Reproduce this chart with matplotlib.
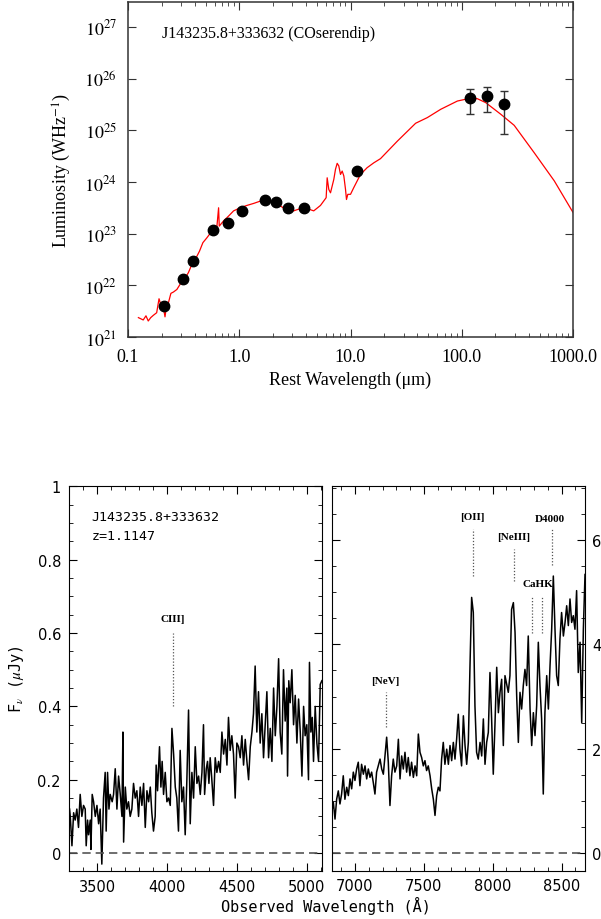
import matplotlib
matplotlib.use('Agg')
import matplotlib.pyplot as plt
from matplotlib.ticker import MultipleLocator, NullFormatter, LogLocator

plt.rcParams['mathtext.fontset'] = 'stix'

# ---- SED (top panel) ----
phot_wave = [0.212, 0.315, 0.383, 0.58, 0.785, 1.05, 1.71, 2.14, 2.76, 3.83, 11.4]
phot_lum = [3.9e21, 1.35e22, 3.0e22, 1.17e23, 1.6e23, 2.7e23, 4.4e23, 4.0e23, 3.2e23, 3.2e23, 1.66e24]

fir_wave = [119, 167, 238]
fir_lum = [4.2e25, 4.5e25, 3.2e25]
fir_lo = [2.1e25, 2.3e25, 8.5e24]
fir_hi = [6.3e25, 6.9e25, 5.75e25]

model_wave = [0.124, 0.137, 0.145, 0.152, 0.160, 0.169, 0.181, 0.190, 0.197, 0.208,
              0.215, 0.220, 0.231, 0.243, 0.256, 0.275, 0.294, 0.320, 0.349, 0.375,
              0.402, 0.439, 0.471, 0.512, 0.568, 0.630, 0.652, 0.661, 0.722, 0.802,
              0.889, 1.02, 1.17, 1.35, 1.55, 1.78, 2.04, 2.34, 2.69, 3.08,
              3.55, 4.07, 4.67, 5.37, 6.04, 6.17, 6.38, 6.61, 7.08, 7.33,
              7.59, 7.85, 8.13, 8.42, 8.71, 9.02, 9.20, 9.46, 10.0, 10.7,
              12.3, 14.1, 16.2, 18.6, 26.4, 38.5, 49.1, 64.7, 91.4, 120,
              138, 164, 224, 296, 448, 679, 1013]
model_loglum = [21.375, 21.33, 21.41, 21.31, 21.375, 21.42, 21.47, 21.74, 21.63, 21.57,
                21.39, 21.54, 21.665, 21.845, 21.87, 21.92, 22.02, 22.115, 22.245, 22.405,
                22.50, 22.66, 22.825, 22.92, 23.05, 23.145, 23.50, 23.145, 23.245, 23.34,
                23.44, 23.50, 23.545, 23.585, 23.63, 23.65, 23.60, 23.535, 23.455, 23.44,
                23.485, 23.485, 23.44, 23.545, 23.695, 24.08, 23.855, 23.79, 24.05, 24.245,
                24.36, 24.31, 24.145, 24.21, 24.115, 23.855, 23.66, 23.76, 23.76, 23.89,
                24.145, 24.275, 24.37, 24.45, 24.79, 25.135, 25.245, 25.405, 25.565, 25.62,
                25.61, 25.535, 25.31, 25.095, 24.565, 24.02, 23.39]

# ---- spectra (bottom panels) ----
blue_wave = [3302, 3307, 3319, 3331, 3342, 3354, 3366, 3378, 3390, 3402, 3414, 3421, 3431, 3438,
             3450, 3455, 3464, 3474, 3486, 3498, 3510, 3521, 3533, 3545, 3557, 3564, 3574, 3584,
             3593, 3607, 3617, 3629, 3641, 3653, 3665, 3677, 3684, 3689, 3701, 3712, 3724, 3736,
             3748, 3760, 3772, 3784, 3796, 3808, 3820, 3832, 3844, 3856, 3868, 3880, 3891, 3903,
             3915, 3922, 3932, 3946, 3956, 3965, 3975, 3987, 3999, 4011, 4023, 4035, 4047, 4059,
             4070, 4082, 4094, 4106, 4118, 4130, 4142, 4154, 4166, 4178, 4190, 4202, 4214, 4226,
             4238, 4250, 4261, 4269, 4281, 4290, 4300, 4309, 4319, 4333, 4345, 4357, 4369, 4381,
             4393, 4405, 4417, 4429, 4440, 4452, 4464, 4476, 4488, 4500, 4512, 4524, 4536, 4548,
             4560, 4572, 4584, 4596, 4608, 4619, 4631, 4643, 4655, 4667, 4679, 4691, 4703, 4715,
             4727, 4739, 4751, 4763, 4775, 4787, 4799, 4810, 4822, 4834, 4846, 4858, 4863, 4872,
             4882, 4894, 4906, 4918, 4930, 4942, 4954, 4966, 4978, 4989, 5001, 5013, 5020, 5030,
             5040, 5049, 5061, 5073, 5085, 5097, 5109]
blue_flux = [0.12, 0.10, 0.02, 0.11, 0.09, 0.12, 0.07, 0.16, 0.10, 0.13, 0.12, 0.02, 0.09, 0.05,
             0.09, 0.01, 0.16, 0.14, 0.10, 0.13, 0.08, 0.12, -0.03, 0.15, 0.22, 0.06, 0.22, 0.12,
             0.16, 0.14, 0.16, 0.23, 0.12, 0.21, 0.16, 0.10, 0.33, 0.03, 0.18, 0.12, 0.14, 0.10,
             0.12, 0.19, 0.15, 0.17, 0.10, 0.18, 0.13, 0.19, 0.07, 0.17, 0.14, 0.18, 0.11, 0.06,
             0.10, 0.24, 0.17, 0.29, 0.18, 0.25, 0.16, 0.22, 0.14, 0.15, 0.13, 0.34, 0.27, 0.18,
             0.15, 0.06, 0.28, 0.14, 0.18, 0.05, 0.20, 0.39, 0.08, 0.22, 0.15, 0.29, 0.19, 0.21,
             0.16, 0.22, 0.35, 0.16, 0.23, 0.25, 0.19, 0.26, 0.21, 0.13, 0.26, 0.22, 0.25, 0.22,
             0.33, 0.27, 0.31, 0.24, 0.37, 0.28, 0.32, 0.27, 0.15, 0.30, 0.29, 0.26, 0.32, 0.24,
             0.31, 0.25, 0.20, 0.29, 0.33, 0.38, 0.51, 0.33, 0.44, 0.30, 0.38, 0.26, 0.35, 0.44,
             0.26, 0.34, 0.25, 0.45, 0.32, 0.40, 0.53, 0.33, 0.27, 0.50, 0.36, 0.45, 0.21, 0.47,
             0.41, 0.50, 0.35, 0.43, 0.30, 0.42, 0.33, 0.21, 0.40, 0.32, 0.35, 0.20, 0.52, 0.33,
             0.37, 0.25, 0.40, 0.30, 0.25, 0.46, 0.47]

red_wave = [6835, 6843, 6855, 6867, 6879, 6891, 6903, 6915, 6927, 6940, 6952, 6964, 6976, 6988,
            7000, 7012, 7024, 7036, 7048, 7061, 7073, 7085, 7097, 7109, 7121, 7133, 7145, 7157,
            7169, 7182, 7194, 7206, 7218, 7230, 7242, 7254, 7266, 7278, 7290, 7303, 7315, 7327,
            7339, 7351, 7363, 7375, 7387, 7399, 7411, 7424, 7436, 7448, 7460, 7472, 7484, 7496,
            7508, 7520, 7532, 7545, 7557, 7569, 7581, 7593, 7605, 7617, 7629, 7641, 7653, 7666,
            7678, 7690, 7702, 7714, 7726, 7738, 7750, 7762, 7774, 7787, 7799, 7811, 7823, 7835,
            7847, 7859, 7871, 7883, 7895, 7908, 7920, 7932, 7944, 7956, 7968, 7980, 7992, 8004,
            8016, 8029, 8041, 8053, 8065, 8077, 8089, 8101, 8113, 8125, 8137, 8150, 8162, 8174,
            8186, 8198, 8210, 8222, 8234, 8246, 8258, 8271, 8283, 8295, 8307, 8319, 8331, 8343,
            8355, 8367, 8379, 8392, 8404, 8416, 8428, 8440, 8452, 8464, 8476, 8488, 8500, 8513,
            8525, 8537, 8549, 8561, 8573, 8585, 8597, 8609, 8621, 8634, 8646, 8658, 8670]
red_flux = [0.84, 0.97, 0.65, 1.03, 1.19, 0.94, 1.13, 1.48, 1.03, 1.26, 1.10, 1.42, 1.23, 1.55,
            1.39, 1.61, 1.74, 1.29, 1.70, 1.51, 1.67, 1.42, 1.61, 1.45, 1.55, 1.35, 1.13, 1.55,
            1.67, 1.80, 1.61, 1.51, 1.86, 2.22, 1.74, 0.91, 1.48, 1.80, 1.55, 1.67, 2.18, 1.42,
            1.86, 1.61, 1.93, 1.55, 1.83, 1.48, 1.74, 1.45, 1.67, 1.48, 2.28, 1.93, 1.83, 1.67,
            1.77, 1.58, 1.67, 1.48, 1.23, 1.03, 0.72, 1.10, 1.26, 1.19, 1.80, 2.12, 1.70, 1.99,
            1.70, 2.06, 1.77, 2.12, 1.80, 2.18, 2.66, 1.99, 1.67, 2.63, 2.06, 1.70, 2.12, 3.59,
            4.90, 4.61, 2.82, 1.93, 1.80, 2.12, 1.86, 2.57, 1.70, 2.12, 2.31, 3.46, 2.57, 1.51,
            2.44, 3.56, 2.69, 3.08, 3.33, 2.06, 3.40, 3.24, 3.08, 3.40, 4.67, 4.80, 4.23, 3.01,
            2.12, 3.08, 2.76, 3.21, 3.52, 3.21, 4.16, 2.76, 2.06, 2.69, 2.25, 2.82, 4.04, 3.21,
            2.57, 1.13, 2.69, 3.40, 2.76, 3.59, 4.29, 5.31, 4.29, 3.40, 3.21, 4.10, 4.61, 4.16,
            4.42, 4.74, 4.36, 4.87, 4.42, 4.55, 4.29, 5.03, 3.46, 4.04, 2.50, 4.29, 5.34]

# line identifications: label, wavelength, line bottom, line top, label x, label y
blue_lines = [('CIII]', 4043, 0.40, 0.60, 4043, 0.64)]
red_lines = [('[NeV]', 7223, 2.41, 3.08, 7223, 3.30),
             ('[OII]', 7854, 5.31, 6.21, 7852, 6.45),
             ('[NeIII]', 8154, 5.22, 5.82, 8150, 6.07),
             ('D4000', 8428, 5.52, 6.21, 8416, 6.42),
             ('CaHK', 8287, 4.21, 4.92, 8331, 5.17),
             ('', 8360, 4.21, 4.92, 8331, 5.17)]

fig = plt.figure(figsize=(6.01, 9.2), dpi=100)

# ---------------- top: SED ----------------
serif = 'Liberation Serif'
ax = fig.add_axes([0.2130, 0.6326, 0.7404, 0.3641])
ax.set_xscale('log')
ax.set_yscale('log')
ax.plot(model_wave, [10 ** v for v in model_loglum], color='red', lw=0.9)
ax.plot(phot_wave, phot_lum, 'o', color='black', ms=7.5)
ax.errorbar(fir_wave, fir_lum,
            yerr=[[l - lo for l, lo in zip(fir_lum, fir_lo)],
                  [hi - l for l, hi in zip(fir_lum, fir_hi)]],
            fmt='o', color='black', ms=7.5, ecolor='#333333', elinewidth=1.0, capsize=3)
ax.set_xlim(0.1, 1000)
ax.set_ylim(1e21, 10 ** 27.48)
ax.set_xticks([0.1, 1, 10, 100, 1000])
ax.set_xticklabels(['0.1', '1.0', '10.0', '100.0', '1000.0'])
ax.xaxis.set_minor_locator(LogLocator(base=10, subs=range(2, 10), numticks=20))
ax.xaxis.set_minor_formatter(NullFormatter())
ax.set_yticks([1e21, 1e22, 1e23, 1e24, 1e25, 1e26, 1e27])
ax.set_yticklabels(['$10^{%d}$' % k for k in range(21, 28)])
ax.yaxis.set_minor_locator(LogLocator(base=10, subs=[], numticks=20))
ax.tick_params(which='both', direction='in', top=True, right=True, labelsize=13,
               labelfontfamily=serif, color='#333333')
ax.tick_params(which='major', length=6, pad=8)
ax.tick_params(which='minor', length=3)
for s in ax.spines.values():
    s.set_color('#333333')
    s.set_linewidth(1.1)
ax.set_xlabel('Rest Wavelength (μm)', fontsize=13, fontfamily=serif, labelpad=4)
ax.set_ylabel('Luminosity (WHz$^{-1}$)', fontsize=13, fontfamily=serif, labelpad=8)
ax.text(0.076, 0.907, 'J143235.8+333632 (COserendip)', transform=ax.transAxes,
        fontsize=11.5, fontfamily=serif, va='center')

# ---------------- bottom left: blue spectrum ----------------
mono = 'DejaVu Sans Mono'
axb = fig.add_axes([0.1153, 0.0525, 0.4210, 0.4178])
axb.plot(blue_wave, blue_flux, color='black', lw=1.1)
axb.axhline(0, color='#555555', lw=1.2, ls=(0, (5, 3)))
axb.set_xlim(3300, 5112)
axb.set_ylim(-0.048, 1.0)
axb.xaxis.set_major_locator(MultipleLocator(500))
axb.xaxis.set_minor_locator(MultipleLocator(100))
axb.set_yticks([0, 0.2, 0.4, 0.6, 0.8, 1.0])
axb.set_yticklabels(['0', '0.2', '0.4', '0.6', '0.8', '1'])
axb.yaxis.set_minor_locator(MultipleLocator(0.05))
axb.tick_params(which='both', direction='in', top=True, right=True, labelsize=10.5, pad=6)
axb.tick_params(which='major', length=6)
axb.tick_params(which='minor', length=3)
axb.set_ylabel(r'F$_\nu$ ($\mu$Jy)', fontsize=11, fontfamily=mono, labelpad=8)
axb.text(3460, 0.917, 'J143235.8+333632', fontsize=9.5, fontfamily=mono, va='center')
axb.text(3460, 0.866, 'z=1.1147', fontsize=9.5, fontfamily=mono, va='center')
for lab, w, y0, y1, tx, ty in blue_lines:
    axb.plot([w, w], [y0, y1], color='#555555', lw=0.9, ls=(0, (1, 1.5)))
    axb.text(tx, ty, lab, fontsize=8, fontfamily=serif, fontweight='bold',
             ha='center', va='center')

# ---------------- bottom right: red spectrum ----------------
axr = fig.add_axes([0.5519, 0.0525, 0.4215, 0.4178])
axr.plot(red_wave, red_flux, color='black', lw=1.1)
axr.axhline(0, color='#555555', lw=1.2, ls=(0, (5, 3)))
axr.set_xlim(6831, 8670)
axr.set_ylim(-0.34, 7.03)
axr.xaxis.set_major_locator(MultipleLocator(500))
axr.xaxis.set_minor_locator(MultipleLocator(100))
axr.yaxis.set_major_locator(MultipleLocator(2))
axr.yaxis.set_minor_locator(MultipleLocator(0.5))
axr.tick_params(which='both', direction='in', top=True, right=True, left=True,
                labelleft=False, labelright=True, labelsize=10.5, pad=5)
axr.tick_params(which='major', length=6)
axr.tick_params(which='minor', length=3)
for lab, w, y0, y1, tx, ty in red_lines:
    axr.plot([w, w], [y0, y1], color='#555555', lw=0.9, ls=(0, (1, 1.5)))
    if lab:
        axr.text(tx, ty, lab, fontsize=8, fontfamily=serif, fontweight='bold',
                 ha='center', va='center')

fig.text(0.542, 0.015, 'Observed Wavelength (Å)', fontsize=11, fontfamily=mono,
         ha='center', va='center')

fig.savefig('out.png', dpi=100)
